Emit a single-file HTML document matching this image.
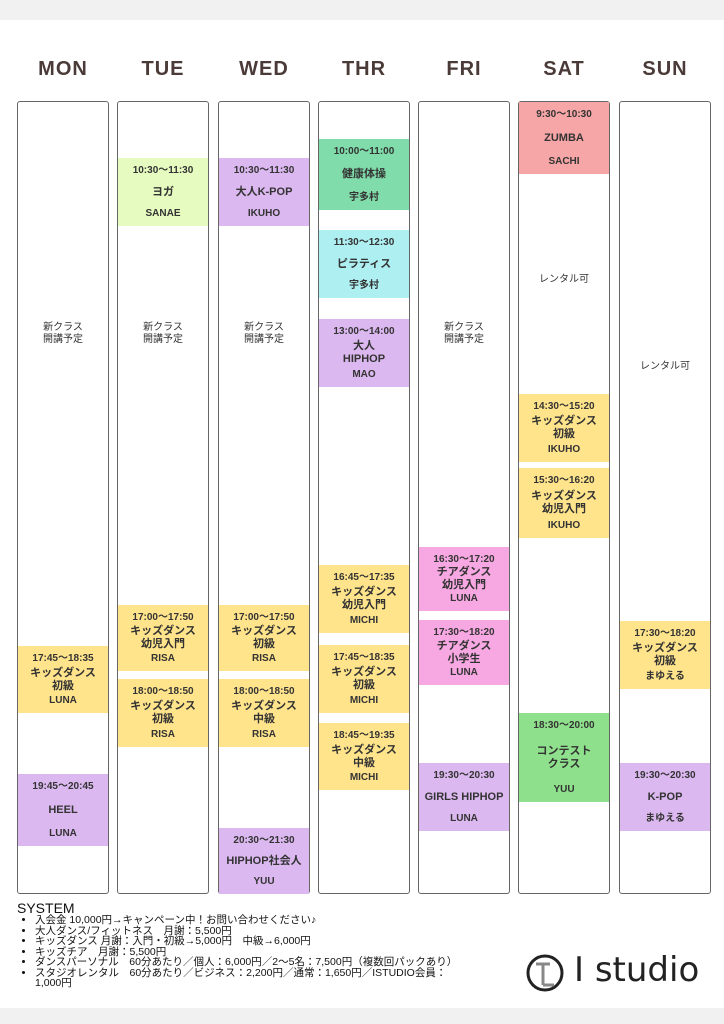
<!DOCTYPE html>
<html><head><meta charset="utf-8"><style>
body{margin:0;width:724px;height:1024px;background:#fff;position:relative;overflow:hidden;font-family:"Liberation Sans","Noto Sans CJK JP",sans-serif;color:#333}
.top{position:absolute;left:0;top:0;width:724px;height:20px;background:#f1f1f1}
.bot{position:absolute;left:0;top:1008px;width:724px;height:16px;background:#f1f1f1}
.day{position:absolute;top:58px;width:92px;text-align:center;font-size:20px;font-weight:bold;color:#4a3a38;letter-spacing:1px}
.col{position:absolute;top:101px;height:793px;width:92px;border:1px solid #666;border-radius:3px;box-sizing:border-box}
.b{position:absolute;left:0;right:0;text-align:center;font-size:10px;font-weight:bold;color:#333;line-height:13px;display:flex;flex-direction:column;justify-content:space-between;padding:6px 0;box-sizing:border-box}
.t{font-size:11px}
.n{position:absolute;left:0;right:0;text-align:center;font-size:10px;line-height:12px}
.y{background:#ffe48c}.g{background:#e6fbc0}.p{background:#dcb8f0}.gr{background:#80dcaa}.c{background:#aef0f2}.pk{background:#f7a8e2}.s{background:#f6a6a6}.lg{background:#8fe08c}
.sys{position:absolute;left:17px;top:902px;font-size:14px;line-height:13px;color:#111}
.sys ul{margin:0;padding:0 0 0 18px;font-size:10.5px;line-height:10.5px}
</style></head><body>
<div class="top"></div><div class="bot"></div>
<div class="day" style="left:17px">MON</div><div class="day" style="left:117px">TUE</div><div class="day" style="left:218px">WED</div><div class="day" style="left:318px">THR</div><div class="day" style="left:418px">FRI</div><div class="day" style="left:518px">SAT</div><div class="day" style="left:619px">SUN</div>

<div class="col" style="left:17px">
<div class="n" style="top:220px">新クラス<br>開講予定</div>
<div class="b y" style="top:544px;height:67px"><span>17:45〜18:35</span><span class="t">キッズダンス<br>初級</span><span>LUNA</span></div>
<div class="b p" style="top:672px;height:72px"><span>19:45〜20:45</span><span class="t">HEEL</span><span>LUNA</span></div>
</div>
<div class="col" style="left:117px">
<div class="b g" style="top:56px;height:68px"><span>10:30〜11:30</span><span class="t">ヨガ</span><span>SANAE</span></div>
<div class="n" style="top:220px">新クラス<br>開講予定</div>
<div class="b y" style="top:503px;height:66px"><span>17:00〜17:50</span><span class="t">キッズダンス<br>幼児入門</span><span>RISA</span></div>
<div class="b y" style="top:577px;height:68px"><span>18:00〜18:50</span><span class="t">キッズダンス<br>初級</span><span>RISA</span></div>
</div>
<div class="col" style="left:218px">
<div class="b p" style="top:56px;height:68px"><span>10:30〜11:30</span><span class="t">大人K-POP</span><span>IKUHO</span></div>
<div class="n" style="top:220px">新クラス<br>開講予定</div>
<div class="b y" style="top:503px;height:66px"><span>17:00〜17:50</span><span class="t">キッズダンス<br>初級</span><span>RISA</span></div>
<div class="b y" style="top:577px;height:68px"><span>18:00〜18:50</span><span class="t">キッズダンス<br>中級</span><span>RISA</span></div>
<div class="b p" style="top:726px;height:66px"><span>20:30〜21:30</span><span class="t">HIPHOP社会人</span><span>YUU</span></div>
</div>
<div class="col" style="left:318px">
<div class="b gr" style="top:37px;height:71px"><span>10:00〜11:00</span><span class="t">健康体操</span><span>宇多村</span></div>
<div class="b c" style="top:128px;height:68px"><span>11:30〜12:30</span><span class="t">ピラティス</span><span>宇多村</span></div>
<div class="b p" style="top:217px;height:68px"><span>13:00〜14:00</span><span class="t">大人<br>HIPHOP</span><span>MAO</span></div>
<div class="b y" style="top:463px;height:68px"><span>16:45〜17:35</span><span class="t">キッズダンス<br>幼児入門</span><span>MICHI</span></div>
<div class="b y" style="top:543px;height:68px"><span>17:45〜18:35</span><span class="t">キッズダンス<br>初級</span><span>MICHI</span></div>
<div class="b y" style="top:621px;height:67px"><span>18:45〜19:35</span><span class="t">キッズダンス<br>中級</span><span>MICHI</span></div>
</div>
<div class="col" style="left:418px">
<div class="n" style="top:220px">新クラス<br>開講予定</div>
<div class="b pk" style="top:445px;height:64px"><span>16:30〜17:20</span><span class="t">チアダンス<br>幼児入門</span><span>LUNA</span></div>
<div class="b pk" style="top:518px;height:65px"><span>17:30〜18:20</span><span class="t">チアダンス<br>小学生</span><span>LUNA</span></div>
<div class="b p" style="top:661px;height:68px"><span>19:30〜20:30</span><span class="t">GIRLS HIPHOP</span><span>LUNA</span></div>
</div>
<div class="col" style="left:518px">
<div class="b s" style="top:0;height:72px"><span>9:30〜10:30</span><span class="t">ZUMBA</span><span>SACHI</span></div>
<div class="n" style="top:172px">レンタル可</div>
<div class="b y" style="top:292px;height:68px"><span>14:30〜15:20</span><span class="t">キッズダンス<br>初級</span><span>IKUHO</span></div>
<div class="b y" style="top:366px;height:70px"><span>15:30〜16:20</span><span class="t">キッズダンス<br>幼児入門</span><span>IKUHO</span></div>
<div class="b lg" style="top:611px;height:89px"><span>18:30〜20:00</span><span class="t">コンテスト<br>クラス</span><span>YUU</span></div>
</div>
<div class="col" style="left:619px">
<div class="n" style="top:259px">レンタル可</div>
<div class="b y" style="top:519px;height:68px"><span>17:30〜18:20</span><span class="t">キッズダンス<br>初級</span><span>まゆえる</span></div>
<div class="b p" style="top:661px;height:68px"><span>19:30〜20:30</span><span class="t">K-POP</span><span>まゆえる</span></div>
</div>

<div class="sys">SYSTEM
<ul>
<li>入会金 10,000円→キャンペーン中！お問い合わせください♪</li>
<li>大人ダンス/フィットネス　月謝：5,500円</li>
<li>キッズダンス 月謝：入門・初級→5,000円　中級→6,000円</li>
<li>キッズチア　月謝：5,500円</li>
<li>ダンスパーソナル　60分あたり／個人：6,000円／2〜5名：7,500円（複数回パックあり）</li>
<li>スタジオレンタル　60分あたり／ビジネス：2,200円／通常：1,650円／ISTUDIO会員：<br>1,000円</li>
</ul></div>
<svg style="position:absolute;left:524px;top:952px" width="42" height="42" viewBox="0 0 42 42"><circle cx="21" cy="21" r="17" fill="none" stroke="#222" stroke-width="3"/><path d="M12 12H26M19 12V33M19 33H30" stroke="#888" stroke-width="3" fill="none"/></svg>
<div style="position:absolute;left:574px;top:950px;font-size:34px;color:#222;font-family:'DejaVu Sans',sans-serif">I studio</div>
</body></html>
